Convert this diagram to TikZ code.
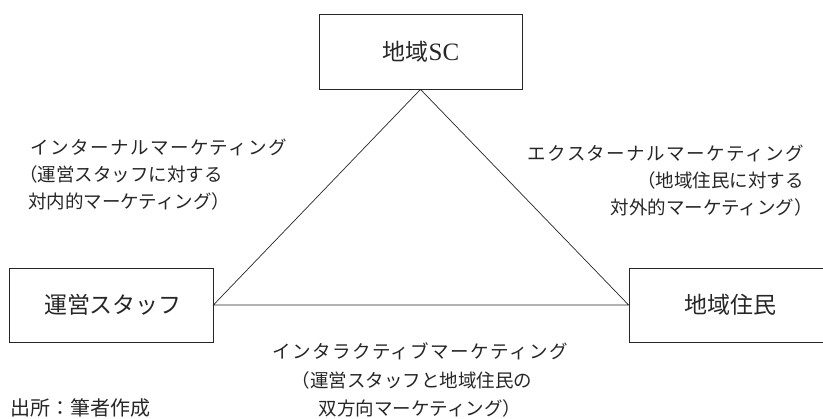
\documentclass[tikz,border=0pt]{standalone}
\usepackage{fontspec}
\newfontfamily\jp{Noto Sans CJK JP}
\newfontfamily\jpw[LetterSpace=8]{Noto Sans CJK JP}
\newfontfamily\lat{Liberation Serif}
\tikzset{
  box/.style={draw=black!85, line width=0.8pt, inner sep=0pt},
  boxtext/.style={font=\jp\fontsize{23}{26}\selectfont, text=black!85},
  lbl/.style={inner sep=0pt, font=\jp\fontsize{18.5}{22}\selectfont, text=black!85},
  lblw/.style={inner sep=0pt, font=\jpw\fontsize{18.5}{22}\selectfont, text=black!85},
  edge/.style={draw=black!85, line width=0.7pt}
}
\begin{document}
\begin{tikzpicture}[x=1pt,y=-1pt]
\useasboundingbox (0,0) rectangle (823,419);
\clip (0,0) rectangle (823,419);
% boxes
\node[box, minimum width=203pt, minimum height=75pt] (sc) at (420.5,51.5) {};
\node[boxtext] (sct) at (421,51.5) {地域{\lat\fontsize{25}{26}\selectfont SC}};
\node[box, minimum width=204pt, minimum height=74pt] (staff) at (111,305) {};
\node[boxtext] (stafft) at (113,305) {運営スタッフ};
\node[box, minimum width=204pt, minimum height=74pt] (res) at (731,305) {};
\node[boxtext] (rest) at (730,305) {地域住民};
% triangle
\draw[edge] (sc.south) -- (staff.east) -- (res.west) -- cycle;
% left label
\node[lblw, anchor=west] (il1) at (30,147) {インターナルマーケティング};
\node[lbl, anchor=west] (il2) at (19,174) {（運営スタッフに対する};
\node[lbl, anchor=west] (il3) at (28,201) {対内的マーケティング）};
% right label
\node[lblw, anchor=east] (el1) at (804,153) {エクスターナルマーケティング};
\node[lbl, anchor=east] (el2) at (804,180) {（地域住民に対する};
\node[lbl, anchor=east] (el3) at (813,207) {対外的マーケティング）};
% bottom label
\node[lblw] (bl1) at (420,351) {インタラクティブマーケティング};
\node[lbl] (bl2) at (412,380) {（運営スタッフと地域住民の};
\node[lbl] (bl3) at (420,408) {双方向マーケティング）};
% source
\node[lbl, anchor=west, font=\jp\fontsize{20}{24}\selectfont] (src) at (10,408) {出所：筆者作成};
\end{tikzpicture}
\end{document}
